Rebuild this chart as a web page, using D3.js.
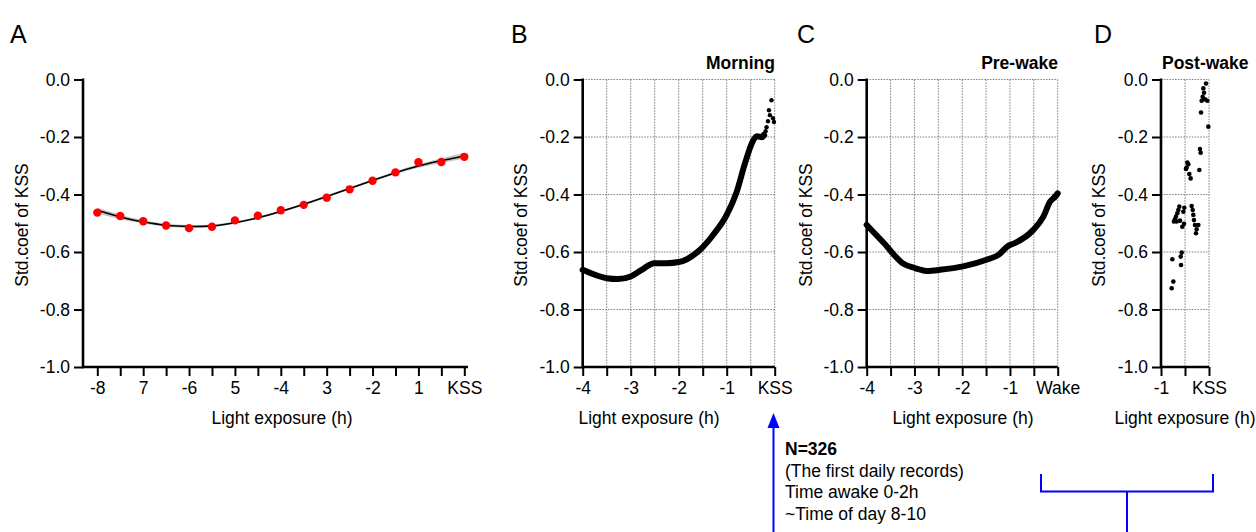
<!DOCTYPE html>
<html>
<head>
<meta charset="utf-8">
<script src="https://cdn.jsdelivr.net/npm/d3@7"></script>
<style>
  body { margin: 0; background: #fff; }
  svg { font-family: Arial, "Liberation Sans", Helvetica, sans-serif; }
</style>
</head>
<body>
<svg id="fig" width="1256" height="532"></svg>
<script>
// --- Data ---
const yTicks = [0, -0.2, -0.4, -0.6, -0.8, -1.0];
const yTickLabels = ["0.0", "-0.2", "-0.4", "-0.6", "-0.8", "-1.0"];
const yGrid = [0, -0.2, -0.4, -0.6, -0.8];

// Panel A: red points + fitted curve with CI band
const aHours = [-8, -7.5, -7, -6.5, -6, -5.5, -5, -4.5, -4, -3.5, -3, -2.5, -2, -1.5, -1, -0.5, 0];
const aPoints = [-0.463, -0.475, -0.493, -0.508, -0.517, -0.512, -0.490, -0.474, -0.455, -0.436, -0.411, -0.382, -0.352, -0.323, -0.288, -0.287, -0.269];
const aFit = [-0.455, -0.478, -0.495, -0.507, -0.511, -0.509, -0.498, -0.481, -0.459, -0.434, -0.407, -0.379, -0.351, -0.324, -0.301, -0.282, -0.266];
const aFitHalfWidth = [0.010, 0.008, 0.006, 0.005, 0.005, 0.005, 0.004, 0.004, 0.004, 0.004, 0.004, 0.004, 0.004, 0.005, 0.006, 0.008, 0.010];
const aTickValues = [-8, -7.5, -7, -6.5, -6, -5.5, -5, -4.5, -4, -3.5, -3, -2.5, -2, -1.5, -1, -0.5, 0];
const aTickLabels = { "-8": "-8", "-7": "7", "-6": "-6", "-5": "5", "-4": "-4", "-3": "3", "-2": "-2", "-1": "1", "0": "KSS" };

// Panel B: Morning
const bHours = [-4, -3.5, -3.26, -3, -2.77, -2.51, -2.25, -2.0, -1.83, -1.56, -1.28, -1.0, -0.79, -0.62, -0.46, -0.375, -0.27, -0.22];
const bCoef = [-0.662, -0.691, -0.694, -0.685, -0.662, -0.639, -0.639, -0.635, -0.625, -0.593, -0.540, -0.471, -0.390, -0.292, -0.216, -0.197, -0.201, -0.194];
const bDotHours = [-0.067, -0.12, -0.10, -0.035, -0.14, -0.015, -0.17, -0.19, -0.24];
const bDotCoef = [-0.072, -0.107, -0.124, -0.135, -0.145, -0.148, -0.166, -0.180, -0.190];
const bTickLabels = { "-4": "-4", "-3": "-3", "-2": "-2", "-1": "-1", "0": "KSS" };

// Panel C: Pre-wake
const cHours = [-4, -3.65, -3.23, -2.99, -2.71, -2.465, -1.98, -1.49, -1.24, -1.03, -0.9, -0.51, -0.30, -0.16, -0.05, 0];
const cCoef = [-0.506, -0.567, -0.641, -0.656, -0.666, -0.662, -0.650, -0.627, -0.610, -0.578, -0.569, -0.523, -0.477, -0.425, -0.407, -0.396];
const cTickLabels = { "-4": "-4", "-3": "-3", "-2": "-2", "-1": "-1", "0": "Wake" };

// Panel D: Post-wake scatter
const dHours = [-0.063, -0.118, -0.104, -0.132, -0.083, -0.035, -0.153, -0.167, -0.014, -0.188, -0.174, -0.201,
  -0.451, -0.431, -0.465, -0.48, -0.41, -0.382, -0.618, -0.639, -0.66, -0.688, -0.71, -0.73, -0.674, -0.604,
  -0.514, -0.535, -0.521, -0.556, -0.361, -0.34, -0.326, -0.313, -0.292, -0.222, -0.257, -0.271,
  -0.569, -0.59, -0.764, -0.583, -0.743, -0.778];
const dCoef = [-0.014, -0.031, -0.046, -0.060, -0.069, -0.074, -0.074, -0.115, -0.164, -0.242, -0.255, -0.315,
  -0.289, -0.295, -0.306, -0.311, -0.329, -0.344, -0.442, -0.454, -0.465, -0.477, -0.486, -0.494, -0.494, -0.491,
  -0.446, -0.460, -0.502, -0.512, -0.440, -0.454, -0.471, -0.489, -0.506, -0.506, -0.521, -0.535,
  -0.602, -0.616, -0.625, -0.645, -0.703, -0.726];
const dTickLabels = { "-1": "-1", "0": "KSS" };

const halfHours4 = [-4, -3.5, -3, -2.5, -2, -1.5, -1, -0.5, 0];
const halfHours1 = [-1, -0.5, 0];

// --- Setup ---
const svg = d3.select("#fig");
const FS = 17.5;
const yTop = 79.5, yBot = 367;
const y = d3.scaleLinear().domain([-1, 0]).range([yBot, yTop]);

function drawPanel(o) {
    const g = svg.append("g");
    const x = d3.scaleLinear().domain(o.domain).range(o.range);

    // --- Grid (dotted) ---
    if (o.grid) {
        g.append("g").selectAll("line")
            .data(o.ticks.filter(t => t !== o.domain[0]))
            .join("line")
            .attr("x1", d => x(d)).attr("x2", d => x(d))
            .attr("y1", yTop).attr("y2", yBot)
            .attr("stroke", "#777").attr("stroke-width", 0.9)
            .attr("stroke-dasharray", "1.6,1.2");
        g.append("g").selectAll("line")
            .data(yGrid)
            .join("line")
            .attr("x1", o.axisX).attr("x2", x(o.domain[1]))
            .attr("y1", d => y(d)).attr("y2", d => y(d))
            .attr("stroke", "#777").attr("stroke-width", 0.9)
            .attr("stroke-dasharray", "1.6,1.2");
    }

    // --- Y axis ---
    const yAxis = d3.axisLeft(y)
        .tickValues(yTicks)
        .tickFormat((d, i) => yTickLabels[i])
        .tickSize(9).tickPadding(4).tickSizeOuter(0);
    const ya = g.append("g").attr("transform", `translate(${o.axisX},0)`).call(yAxis);
    ya.select(".domain").remove();
    ya.selectAll(".tick line").attr("stroke", "#000").attr("stroke-width", 2);
    ya.selectAll(".tick text").attr("font-size", FS).attr("fill", "#000").attr("font-family", null);

    // --- X axis ---
    const xAxis = d3.axisBottom(x)
        .tickValues(o.ticks)
        .tickFormat(d => o.labels[String(d)] || "")
        .tickSize(9).tickPadding(6).tickSizeOuter(0);
    const xa = g.append("g").attr("transform", `translate(0,${yBot})`).call(xAxis);
    xa.select(".domain").remove();
    xa.selectAll(".tick line").attr("stroke", "#000").attr("stroke-width", 2);
    xa.selectAll(".tick text").attr("font-size", FS).attr("fill", "#000").attr("font-family", null);

    // axis lines
    g.append("line").attr("x1", o.axisX).attr("x2", o.axisX)
        .attr("y1", yTop - 1).attr("y2", yBot + 1.2)
        .attr("stroke", "#000").attr("stroke-width", 2.6);
    g.append("line").attr("x1", o.axisX).attr("x2", o.xEnd)
        .attr("y1", yBot).attr("y2", yBot)
        .attr("stroke", "#000").attr("stroke-width", 2.6);

    // --- Labels ---
    g.append("text")
        .attr("transform", `translate(${o.yLabelX},225) rotate(-90)`)
        .attr("text-anchor", "middle").attr("font-size", FS)
        .text("Std.coef of KSS");
    g.append("text")
        .attr("x", o.xLabelX).attr("y", 424)
        .attr("text-anchor", "middle").attr("font-size", FS)
        .text("Light exposure (h)");
    g.append("text")
        .attr("x", o.letterX).attr("y", 43)
        .attr("font-size", 25)
        .text(o.letter);
    if (o.title) {
        g.append("text")
            .attr("x", o.titleX).attr("y", 69)
            .attr("text-anchor", o.titleAnchor)
            .attr("font-size", FS).attr("font-weight", "bold")
            .text(o.title);
    }
    return { g, x };
}

// --- Panel A ---
const A = drawPanel({
    letter: "A", letterX: 10, domain: [-8, 0], range: [97.3, 464.3],
    axisX: 83, xEnd: 468, ticks: aTickValues, labels: aTickLabels,
    yLabelX: 28, xLabelX: 282, grid: false
});
const aBand = aHours.map((h, i) => ({ h, lo: aFit[i] - aFitHalfWidth[i], hi: aFit[i] + aFitHalfWidth[i] }));
A.g.append("path")
    .datum(aBand)
    .attr("fill", "#b5b5b5").attr("opacity", 0.8)
    .attr("d", d3.area().curve(d3.curveNatural)
        .x(d => A.x(d.h)).y0(d => y(d.lo)).y1(d => y(d.hi)));
A.g.append("path")
    .datum(aHours.map((h, i) => [h, aFit[i]]))
    .attr("fill", "none").attr("stroke", "#000").attr("stroke-width", 1.6)
    .attr("d", d3.line().curve(d3.curveNatural).x(d => A.x(d[0])).y(d => y(d[1])));
A.g.append("g").selectAll("circle")
    .data(aHours.map((h, i) => [h, aPoints[i]]))
    .join("circle")
    .attr("cx", d => A.x(d[0])).attr("cy", d => y(d[1]))
    .attr("r", 4.2).attr("fill", "#ff0000");

// --- Panel B ---
const B = drawPanel({
    letter: "B", letterX: 511, domain: [-4, 0], range: [582.7, 774.7],
    axisX: 582.7, xEnd: 774.7, ticks: halfHours4, labels: bTickLabels,
    yLabelX: 527, xLabelX: 649, grid: true,
    title: "Morning", titleX: 775, titleAnchor: "end"
});
B.g.append("path")
    .datum(bHours.map((h, i) => [h, bCoef[i]]))
    .attr("fill", "none").attr("stroke", "#000").attr("stroke-width", 6)
    .attr("stroke-linecap", "round").attr("stroke-linejoin", "round")
    .attr("d", d3.line().curve(d3.curveMonotoneX).x(d => B.x(d[0])).y(d => y(d[1])));
B.g.append("g").selectAll("circle")
    .data(bDotHours.map((h, i) => [h, bDotCoef[i]]))
    .join("circle")
    .attr("cx", d => B.x(d[0])).attr("cy", d => y(d[1]))
    .attr("r", 2.2).attr("fill", "#000");

// --- Panel C ---
const C = drawPanel({
    letter: "C", letterX: 797, domain: [-4, 0], range: [866.7, 1057.7],
    axisX: 866.7, xEnd: 1057.7, ticks: halfHours4, labels: cTickLabels,
    yLabelX: 812, xLabelX: 963, grid: true,
    title: "Pre-wake", titleX: 1058, titleAnchor: "end"
});
C.g.append("path")
    .datum(cHours.map((h, i) => [h, cCoef[i]]))
    .attr("fill", "none").attr("stroke", "#000").attr("stroke-width", 6)
    .attr("stroke-linecap", "round").attr("stroke-linejoin", "round")
    .attr("d", d3.line().curve(d3.curveMonotoneX).x(d => C.x(d[0])).y(d => y(d[1])));

// --- Panel D ---
const D = drawPanel({
    letter: "D", letterX: 1094, domain: [-1, 0], range: [1161, 1209],
    axisX: 1161, xEnd: 1209, ticks: halfHours1, labels: dTickLabels,
    yLabelX: 1105, xLabelX: 1185, grid: true,
    title: "Post-wake", titleX: 1162, titleAnchor: "start"
});
D.g.append("g").selectAll("circle")
    .data(dHours.map((h, i) => [h, dCoef[i]]))
    .join("circle")
    .attr("cx", d => D.x(d[0])).attr("cy", d => y(d[1]))
    .attr("r", 2.3).attr("fill", "#000");

// --- Annotation (blue arrow + bracket) ---
const blue = "#0000ff";
const ann = svg.append("g");
ann.append("line").attr("x1", 773.5).attr("x2", 773.5).attr("y1", 532).attr("y2", 425)
    .attr("stroke", blue).attr("stroke-width", 2);
ann.append("path").attr("d", "M773.5,413 L767.5,428 L779.5,428 Z").attr("fill", blue);
const annLines = ["N=326", "(The first daily records)", "Time awake 0-2h", "~Time of day 8-10"];
ann.selectAll("text").data(annLines).join("text")
    .attr("x", 785).attr("y", (d, i) => 455 + i * 21.5)
    .attr("font-size", FS)
    .attr("font-weight", (d, i) => i === 0 ? "bold" : null)
    .text(d => d);
ann.append("path")
    .attr("d", "M1041,474 V491.5 H1213 V474 M1127,491.5 V532")
    .attr("fill", "none").attr("stroke", blue).attr("stroke-width", 2);
</script>
</body>
</html>
